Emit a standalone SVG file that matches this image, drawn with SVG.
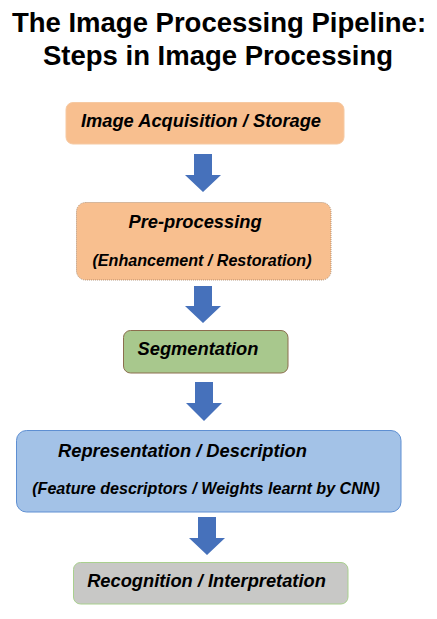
<svg xmlns="http://www.w3.org/2000/svg" width="437" height="619" viewBox="0 0 437 619">
<style>
.title{font-family:"Liberation Sans",Arial,sans-serif;font-weight:bold;font-size:27.5px;fill:#000;text-anchor:middle}
.lbl{font-family:"Liberation Sans",Arial,sans-serif;font-weight:bold;font-style:italic;font-size:18.3px;fill:#000;text-anchor:middle}
.sub{font-family:"Liberation Sans",Arial,sans-serif;font-weight:bold;font-style:italic;font-size:16.1px;fill:#000;text-anchor:middle}
.arrow{fill:#4671BB}
</style>
<rect width="437" height="619" fill="#ffffff"/>
<g id="title">
<text class="title" x="219" y="32">The Image Processing Pipeline:</text>
<text class="title" x="218" y="65">Steps in Image Processing</text>
</g>
<g id="node-acquisition">
<rect x="66" y="102.5" width="278" height="41.5" rx="7" fill="#F8BF8F" stroke="#F6C9A2" stroke-width="1"/>
<text class="lbl" x="201" y="127">Image Acquisition / Storage</text>
</g>
<g id="node-preprocessing">
<rect x="76.5" y="202.5" width="254.5" height="77.5" rx="9" fill="#F8BF8F" stroke="#A07A5A" stroke-width="0.8" stroke-dasharray="1 1"/>
<text class="lbl" x="195" y="228">Pre-processing</text>
<text class="sub" x="202" y="266">(Enhancement / Restoration)</text>
</g>
<g id="node-segmentation">
<rect x="123.5" y="330.5" width="164.5" height="42.5" rx="7" fill="#A8C88D" stroke="#8C6E4E" stroke-width="1"/>
<text class="lbl" x="198" y="355">Segmentation</text>
</g>
<g id="node-representation">
<rect x="16.5" y="430.5" width="384.5" height="81.5" rx="10" fill="#A3C2E7" stroke="#5E8FD2" stroke-width="1"/>
<text class="lbl" x="182.5" y="457">Representation / Description</text>
<text class="sub" x="206" y="494">(Feature descriptors / Weights learnt by CNN)</text>
</g>
<g id="node-recognition">
<rect x="73.5" y="562.5" width="274.5" height="41.5" rx="7" fill="#C8C8C6" stroke="#A9D08E" stroke-width="1"/>
<text class="lbl" x="206.5" y="587">Recognition / Interpretation</text>
</g>
<g id="connectors">
<polygon class="arrow" points="194,154 212,154 212,175 221,175 203,192 185,175 194,175"/>
<polygon class="arrow" points="194,286 212,286 212,306 221,306 203,323 185,306 194,306"/>
<polygon class="arrow" points="195,382 213,382 213,403 222,403 204,421 186,403 195,403"/>
<polygon class="arrow" points="198,517 216,517 216,538 225,538 207,555 189,538 198,538"/>
</g>
</svg>
